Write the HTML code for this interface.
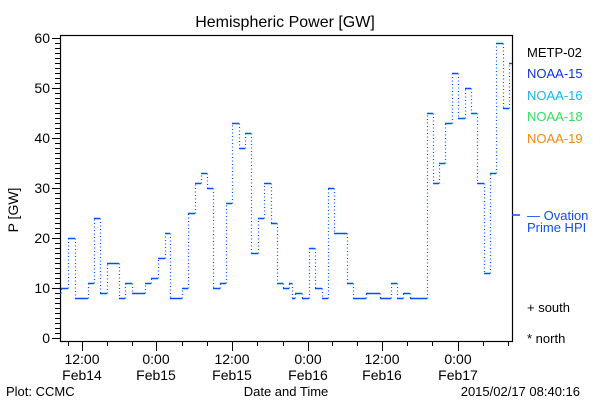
<!DOCTYPE html>
<html><head><meta charset="utf-8"><style>
body{margin:0;background:#fff;}
svg{display:block;font-family:"Liberation Sans",sans-serif;}
</style></head><body>
<svg width="600" height="400" xmlns="http://www.w3.org/2000/svg">
<rect width="600" height="400" fill="#fff"/>
<text x="285" y="27" font-size="16" text-anchor="middle">Hemispheric Power [GW]</text>
<rect x="60.5" y="35.5" width="452" height="306" fill="none" stroke="#000" stroke-width="1.2"/>
<path stroke="#000" stroke-width="1" fill="none" d="M52 338.5h9M55 333.5h6M55 328.5h6M55 323.5h6M55 318.5h6M55 313.5h6M55 308.5h6M55 303.5h6M55 298.5h6M55 293.5h6M52 288.5h9M55 283.5h6M55 278.5h6M55 273.5h6M55 268.5h6M55 263.5h6M55 258.5h6M55 253.5h6M55 248.5h6M55 243.5h6M52 238.5h9M55 233.5h6M55 228.5h6M55 223.5h6M55 218.5h6M55 213.5h6M55 208.5h6M55 203.5h6M55 198.5h6M55 193.5h6M52 188.5h9M55 183.5h6M55 178.5h6M55 173.5h6M55 168.5h6M55 163.5h6M55 158.5h6M55 153.5h6M55 148.5h6M55 143.5h6M52 138.5h9M55 133.5h6M55 128.5h6M55 123.5h6M55 118.5h6M55 113.5h6M55 108.5h6M55 103.5h6M55 98.5h6M55 93.5h6M52 88.5h9M55 83.5h6M55 78.5h6M55 73.5h6M55 68.5h6M55 63.5h6M55 58.5h6M55 53.5h6M55 48.5h6M55 43.5h6M52 38.5h9"/>
<path stroke="#000" stroke-width="1" fill="none" d="M68.5 341v5M107.5 341v5M132.5 341v5M182.5 341v5M207.5 341v5M257.5 341v5M283.5 341v5M332.5 341v5M357.5 341v5M407.5 341v5M432.5 341v5M483.5 341v5M508.5 341v5M82.5 341v10M156.5 341v10M232.5 341v10M308.5 341v10M382.5 341v10M458.5 341v10"/>
<g font-size="14" text-anchor="end">
<text x="50" y="43">60</text><text x="50" y="93">50</text><text x="50" y="143">40</text>
<text x="50" y="193">30</text><text x="50" y="243">20</text><text x="50" y="293">10</text><text x="50" y="343">0</text>
</g>
<text transform="translate(18,210) rotate(-90)" font-size="14" text-anchor="middle">P [GW]</text>
<g font-size="14" text-anchor="middle">
<text x="82" y="364">12:00</text><text x="82" y="380">Feb14</text>
<text x="156" y="364">0:00</text><text x="156" y="380">Feb15</text>
<text x="232" y="364">12:00</text><text x="232" y="380">Feb15</text>
<text x="308" y="364">0:00</text><text x="308" y="380">Feb16</text>
<text x="382" y="364">12:00</text><text x="382" y="380">Feb16</text>
<text x="458" y="364">0:00</text><text x="458" y="380">Feb17</text>
</g>
<g font-size="13">
<text x="6" y="396">Plot: CCMC</text>
<text x="286" y="396" text-anchor="middle">Date and Time</text>
<text x="580" y="396" text-anchor="end">2015/02/17 08:40:16</text>
<text x="527" y="57" fill="#000">METP-02</text>
<text x="527" y="78" fill="#1030e0">NOAA-15</text>
<text x="527" y="100" fill="#10b8f0">NOAA-16</text>
<text x="527" y="121" fill="#30e060">NOAA-18</text>
<text x="527" y="143" fill="#f08810">NOAA-19</text>
<text x="527" y="220" fill="#1050f0">— Ovation</text>
<text x="527" y="232" fill="#1050f0">Prime HPI</text>
<text x="527" y="312">+ south</text>
<text x="527" y="343">* north</text>
</g>
<line x1="512" y1="215" x2="520" y2="215" stroke="#0050ff" stroke-width="1.5"/>
<path stroke="#0050ff" stroke-width="1.5" fill="none" d="M60 293.5H61M61 288.5H68M68 238.5H75M75 298.5H88M88 283.5H94M94 218.5H100M100 293.5H107M107 263.5H119M119 298.5H125M125 283.5H132M132 293.5H145M145 283.5H151M151 278.5H158M158 258.5H165M165 233.5H170M170 298.5H182M182 288.5H188M188 213.5H195M195 183.5H201M201 173.5H207M207 188.5H213M213 288.5H220M220 283.5H226M226 203.5H232M232 123.5H239M239 148.5H245M245 133.5H251M251 253.5H258M258 218.5H264M264 183.5H271M271 223.5H277M277 283.5H283M283 288.5H289M289 283.5H292M292 298.5H295M295 293.5H302M302 298.5H309M309 248.5H315M315 288.5H322M322 298.5H328M328 188.5H334M334 233.5H347M347 283.5H353M353 298.5H366M366 293.5H380M380 298.5H391M391 283.5H397M397 298.5H403M403 293.5H410M410 298.5H427M427 113.5H433M433 183.5H439M439 163.5H445M445 123.5H452M452 73.5H458M458 118.5H465M465 88.5H471M471 113.5H477M477 183.5H484M484 273.5H490M490 173.5H496M496 43.5H503M503 108.5H509M509 63.5H512"/>
<path stroke="#0050ff" stroke-width="1.2" stroke-dasharray="1 2.5" fill="none" d="M61.5 293.5V288.5M68.5 288.5V238.5M75.5 238.5V298.5M88.5 298.5V283.5M94.5 283.5V218.5M100.5 218.5V293.5M107.5 293.5V263.5M119.5 263.5V298.5M125.5 298.5V283.5M132.5 283.5V293.5M145.5 293.5V283.5M151.5 283.5V278.5M158.5 278.5V258.5M165.5 258.5V233.5M170.5 233.5V298.5M182.5 298.5V288.5M188.5 288.5V213.5M195.5 213.5V183.5M201.5 183.5V173.5M207.5 173.5V188.5M213.5 188.5V288.5M220.5 288.5V283.5M226.5 283.5V203.5M232.5 203.5V123.5M239.5 123.5V148.5M245.5 148.5V133.5M251.5 133.5V253.5M258.5 253.5V218.5M264.5 218.5V183.5M271.5 183.5V223.5M277.5 223.5V283.5M283.5 283.5V288.5M289.5 288.5V283.5M292.5 283.5V298.5M295.5 298.5V293.5M302.5 293.5V298.5M309.5 298.5V248.5M315.5 248.5V288.5M322.5 288.5V298.5M328.5 298.5V188.5M334.5 188.5V233.5M347.5 233.5V283.5M353.5 283.5V298.5M366.5 298.5V293.5M380.5 293.5V298.5M391.5 298.5V283.5M397.5 283.5V298.5M403.5 298.5V293.5M410.5 293.5V298.5M427.5 298.5V113.5M433.5 113.5V183.5M439.5 183.5V163.5M445.5 163.5V123.5M452.5 123.5V73.5M458.5 73.5V118.5M465.5 118.5V88.5M471.5 88.5V113.5M477.5 113.5V183.5M484.5 183.5V273.5M490.5 273.5V173.5M496.5 173.5V43.5M503.5 43.5V108.5M509.5 108.5V63.5"/>
</svg>
</body></html>
